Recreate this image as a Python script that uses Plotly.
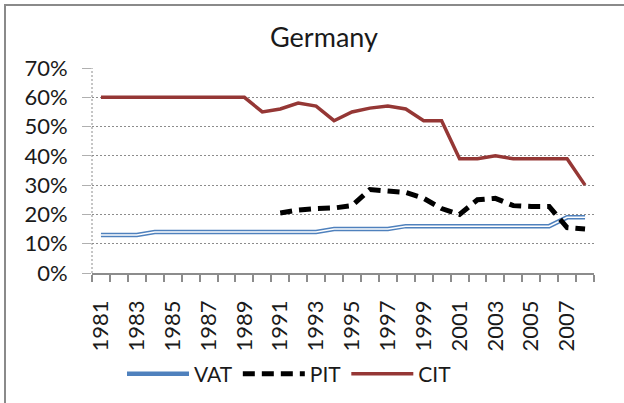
import plotly.graph_objects as go

years = list(range(1981, 2009))
vat = [13, 13, 13, 14, 14, 14, 14, 14, 14, 14, 14, 14, 14, 15, 15, 15, 15, 16, 16, 16, 16, 16, 16, 16, 16, 16, 19, 19]
pit = [None] * 10 + [20.5, 21.5, 22, 22.2, 23, 28.5, 28, 27.5, 25.5, 22, 20, 25, 25.5, 23, 22.7, 22.7, 15.5, 15]
cit = [60, 60, 60, 60, 60, 60, 60, 60, 60, 55, 56, 58, 57, 52, 55, 56.3, 57, 56, 52, 52, 39, 39, 40, 39, 39, 39, 39, 30]
y_ticks = [0, 10, 20, 30, 40, 50, 60, 70]
y_ticktext = [f"{v}%" for v in y_ticks]
x_ticks = list(range(1981, 2009, 2))

FONT = "Lato"
GRID = "#8c8c8c"

fig = go.Figure()
fig.add_trace(go.Scatter(x=years, y=vat, name="VAT", mode="lines",
                         line=dict(color="#4F81BD", width=4.5), legendgroup="vat"))
fig.add_trace(go.Scatter(x=years, y=vat, name="VAT", mode="lines", showlegend=False,
                         line=dict(color="white", width=1.5), legendgroup="vat", hoverinfo="skip"))
fig.add_trace(go.Scatter(x=years, y=pit, name="PIT", mode="lines", connectgaps=False,
                         line=dict(color="black", width=5, dash="12px,7px")))
fig.add_trace(go.Scatter(x=years, y=cit, name="CIT", mode="lines",
                         line=dict(color="#953735", width=3.5)))

L, R, T, B = 92, 594, 68, 273
W, H = 624, 403
pw, ph = R - L, B - T

fig.update_layout(
    width=W, height=H,
    margin=dict(l=L, r=W - R, t=T, b=H - B, autoexpand=False),
    paper_bgcolor="white", plot_bgcolor="white",
    font=dict(family=FONT, color="#1a1a1a", size=21),
    title=dict(text="Germany", x=324 / W, xanchor="center", xref="container",
               y=1 - 38 / H, yanchor="middle", yref="container", automargin=False,
               font=dict(size=27, family=FONT, color="#1a1a1a")),
    showlegend=True,
    legend=dict(orientation="h", x=(122 - L) / pw, xanchor="left",
                y=(B - 374) / ph, yanchor="middle",
                font=dict(size=21, family=FONT), itemwidth=62,
                bgcolor="rgba(0,0,0,0)"),
    xaxis=dict(range=[1980.5, 2008.5], tickmode="array", tickvals=x_ticks,
               ticktext=[str(v) for v in x_ticks], tickangle=-90, automargin=False,
               ticks="", showgrid=False, zeroline=False,
               showline=True, linecolor=GRID, linewidth=1.5,
               tickfont=dict(size=22, family=FONT),
               minor=dict(ticks="outside", dtick=1, tick0=1980.5, ticklen=7,
                          tickcolor=GRID, tickwidth=1.5, showgrid=False),
               ticklabelstandoff=17),
    yaxis=dict(range=[0, 70], tickmode="array", tickvals=y_ticks, ticktext=y_ticktext,
               automargin=False,
               showgrid=True, gridcolor=GRID, gridwidth=1, griddash="2px,2px",
               zeroline=False, showline=False,
               ticks="outside", ticklen=9, tickcolor="#b0b0b0", tickwidth=1,
               tickfont=dict(size=22, family=FONT), ticklabelstandoff=10),
    shapes=[
        dict(type="line", xref="paper", yref="paper", x0=0, x1=0, y0=0, y1=1,
             line=dict(color=GRID, width=1, dash="2px,2px"), layer="below"),
        dict(type="rect", xref="paper", yref="paper",
             x0=(5 - L) / pw, x1=(W + 20 - L) / pw,
             y0=(B - H - 20) / ph, y1=1 + (T - 5) / ph,
             line=dict(color="#8a8a8a", width=2), fillcolor="rgba(0,0,0,0)"),
    ],
)

fig.write_html("out.html", config={"displayModeBar": False},
               post_script="document.body.style.margin='0';")
